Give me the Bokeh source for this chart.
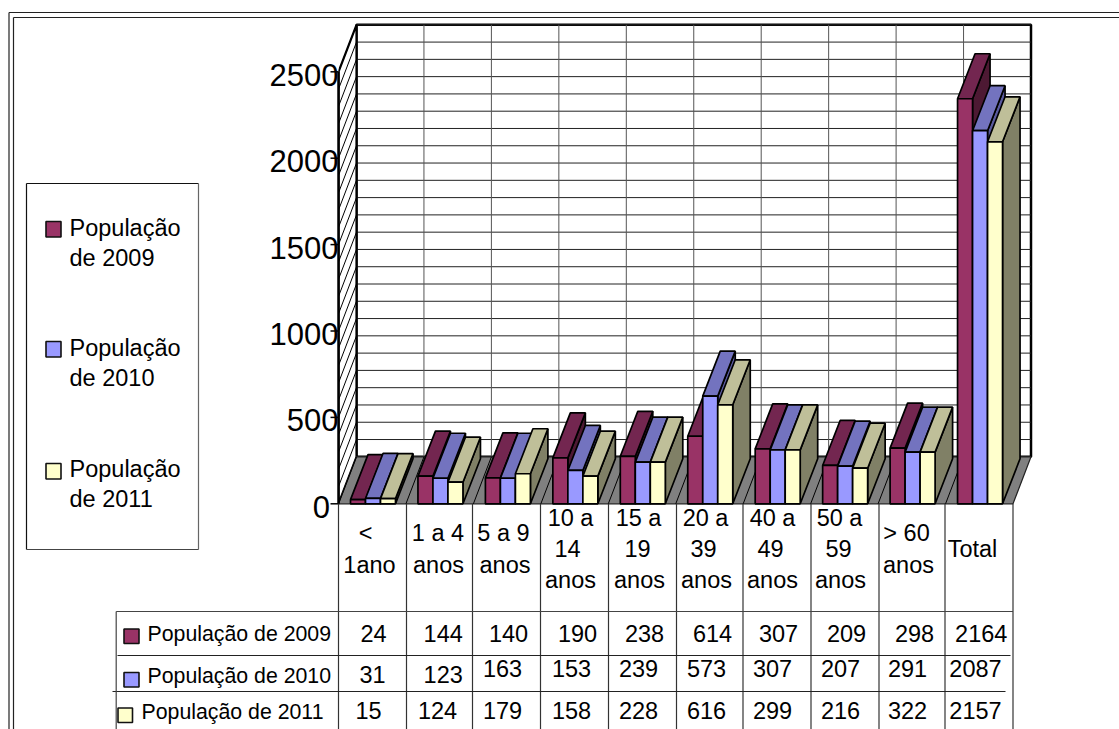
from bokeh.plotting import figure
from bokeh.models import Range1d, FixedTicker, LinearAxis
from bokeh.core.properties import value
from bokeh.embed import file_html
from bokeh.resources import INLINE

# ---------- data ----------
series_names = ["População de 2009", "População de 2010", "População de 2011"]
categories = ["<\n1ano", "1 a 4\nanos", "5 a 9\nanos", "10 a\n14\nanos", "15 a\n19\nanos",
              "20 a\n39\nanos", "40 a\n49\nanos", "50 a\n59\nanos", "> 60\nanos", "Total"]
# heights of the drawn bars
bars_2009 = [24, 160, 150, 266, 275, 391, 318, 222, 322, 2344]
bars_2010 = [31, 148, 148, 193, 241, 623, 312, 218, 299, 2159]
bars_2011 = [30, 125, 174, 160, 241, 573, 312, 206, 299, 2095]
# numbers printed in the data table
table_2009 = [24, 144, 140, 190, 238, 614, 307, 209, 298, 2164]
table_2010 = [31, 123, 163, 153, 239, 573, 307, 207, 291, 2087]
table_2011 = [15, 124, 179, 158, 228, 616, 299, 216, 322, 2157]
y_ticks = [0, 500, 1000, 1500, 2000, 2500]
grid_values = [v * 100 for v in range(1, 26)]

# ---------- styles / layout ----------
FRONT = ["#993366", "#9999ff", "#ffffcc"]
TOP = ["#732650", "#7373bf", "#bfbf99"]
SIDE = ["#4d1933", "#5a5a9e", "#808066"]
FONT = value("Liberation Sans")
PXX, PXY = 67.45, 0.1728
X = lambda px: (px - 338) / PXX
Y = lambda py: (503.3 - py) / PXY
DEPTH_X, DEPTH_Y = 18 / PXX, 47 / PXY
BAR_DX, BAR_DY = 17.5 / PXX, 45 / PXY
BAR_W = 15 / PXX
GROUP_OFF = 12 / PXX
N = len(categories)
LABEL_DROP = 3.5 / PXY  # tick labels sit slightly under their tick marks

p = figure(width=1119, height=729, output_backend="svg", toolbar_location=None,
           x_range=Range1d(X(338), X(1119)), y_range=Range1d(Y(729), Y(0)),
           x_axis_type=None, y_axis_type=None, min_border_left=338, min_border_right=0,
           min_border_top=0, min_border_bottom=0)
p.grid.visible = False
p.outline_line_color = None
p.background_fill_color = "white"
p.extra_y_ranges = {"labels": Range1d(Y(729) + LABEL_DROP, Y(0) + LABEL_DROP)}

ax = LinearAxis(y_range_name="labels")
ax.ticker = FixedTicker(ticks=y_ticks)
ax.minor_tick_line_color = None
ax.major_tick_line_color = None
ax.major_tick_in = 0
ax.major_tick_out = 0
ax.major_label_standoff = 0
ax.major_label_text_font = "Liberation Sans"
ax.major_label_text_font_size = "31px"
ax.major_label_text_color = "black"
ax.major_label_overrides = {0: "0\u00a0"}
ax.axis_line_color = None
p.add_layout(ax, "left")

# ---------- chart box ----------
p.patch([DEPTH_X, DEPTH_X + N, DEPTH_X + N, DEPTH_X],
        [DEPTH_Y, DEPTH_Y, 2500 + DEPTH_Y, 2500 + DEPTH_Y],
        fill_color="white", line_color="black", line_width=2.5)
p.segment([DEPTH_X] * len(grid_values), [v + DEPTH_Y for v in grid_values],
          [DEPTH_X + N] * len(grid_values), [v + DEPTH_Y for v in grid_values],
          line_color="#222222", line_width=1)
p.segment([DEPTH_X + i for i in range(1, N)], [DEPTH_Y] * (N - 1),
          [DEPTH_X + i for i in range(1, N)], [2500 + DEPTH_Y] * (N - 1),
          line_color="#555555", line_width=1)
# side wall with the grid lines running over it
p.patch([0, DEPTH_X, DEPTH_X, 0], [0, DEPTH_Y, 2500 + DEPTH_Y, 2500],
        fill_color="white", line_color="black", line_width=2.2)
p.segment([0] * len(grid_values), grid_values,
          [DEPTH_X] * len(grid_values), [v + DEPTH_Y for v in grid_values],
          line_color="black", line_width=1)
# floor
p.patch([0, N, N + DEPTH_X, DEPTH_X], [0, 0, DEPTH_Y, DEPTH_Y],
        fill_color="#808080", line_color="#222222", line_width=1.2)
p.segment(list(range(N)), [0] * N, [i + DEPTH_X for i in range(N)], [DEPTH_Y] * N,
          line_color="black", line_width=1)

# ---------- bars ----------
all_bars = [bars_2009, bars_2010, bars_2011]
for c in range(N):
    for s in range(3):
        v = all_bars[s][c]
        x0 = c + GROUP_OFF + s * BAR_W
        x1 = x0 + BAR_W
        faces = [
            ([x1, x1 + BAR_DX, x1 + BAR_DX, x1], [0, BAR_DY, v + BAR_DY, v], SIDE[s]),
            ([x0, x1, x1 + BAR_DX, x0 + BAR_DX], [v, v, v + BAR_DY, v + BAR_DY], TOP[s]),
            ([x0, x1, x1, x0], [0, 0, v, v], FRONT[s]),
        ]
        for xs, ys, col in faces:
            p.patch(xs, ys, fill_color=col, line_color="black", line_width=1.7)

# ---------- helpers for chrome ----------
def seg(x0, y0, x1, y1, color="black", w=1.0):
    p.segment([X(x0)], [Y(y0)], [X(x1)], [Y(y1)], line_color=color, line_width=w, level="overlay")

def txt(px, py, s, size=23.5, align="center"):
    p.text([X(px)], [Y(py - 0.36 * size)], text=[s], text_font=FONT, text_font_size=f"{size}px",
           text_align=align, text_baseline="alphabetic", text_color="black", level="overlay")

def swatch(x0, y0, x1, y1, col):
    p.quad(left=[X(x0)], right=[X(x1)], top=[Y(y0)], bottom=[Y(y1)], fill_color=col,
           line_color="#111111", line_width=1.6, level="overlay")

# y axis line and tick marks
p.segment([X(338)], [0], [X(338)], [2500], line_color="black", line_width=2.5, level="overlay")
p.segment([X(330)] * len(y_ticks), y_ticks, [X(338)] * len(y_ticks), y_ticks,
          line_color="black", line_width=1.5, level="overlay")

# outer frame
seg(8.5, 12, 1119, 12, "#222222", 1.2)
seg(13, 17, 1119, 17, "#222222", 1.2)
seg(8.5, 12, 8.5, 729, "#222222", 1.2)
seg(13, 17, 13, 729, "#222222", 1.2)

# legend box
seg(26, 183, 198, 183, "#111111", 1.2)
seg(26, 183, 26, 549, "#111111", 1.2)
seg(198, 183, 198, 549, "#666666", 1.2)
seg(26, 549, 198, 549, "#444444", 1.2)
legend_swatch_y = [221, 341, 463]
legend_base_y = [236, 356, 477]
for i, name in enumerate(series_names):
    first, second = name.split(" ", 1)
    swatch(45.5, legend_swatch_y[i], 60.5, legend_swatch_y[i] + 15.5, FRONT[i])
    txt(69, legend_base_y[i], first, 23.5, "left")
    txt(69, legend_base_y[i] + 30, second, 23.5, "left")

# data table grid
col_x = [338, 406, 472, 540, 608, 676, 742.5, 810.5, 878.5, 944.5, 1012.5]
for cx in col_x:
    seg(cx, 503.3, cx, 729, "#333333", 1.2)
seg(115.7, 611, 1012.5, 611, "#444444", 1.2)
seg(117, 655, 1010, 655, "#222222", 1.2)
seg(112, 691, 1005, 691, "#222222", 1.2)
seg(115.7, 611, 115.7, 729, "#444444", 1.2)

# category labels (one x centre per text line)
label_x = [[365, 369], [437.5, 438], [503, 504.5], [570, 567, 570], [638, 637, 639],
           [705, 703, 706], [772, 770, 772], [839, 838, 840], [906, 908], [972]]
label_base = {1: [556.7], 2: [541, 572.7], 3: [525.7, 556.7, 588]}
for c, lab in enumerate(categories):
    lines = lab.split("\n")
    for k, line in enumerate(lines):
        txt(label_x[c][k], label_base[len(lines)][k], line)

# table numbers
x_2009 = [373, 442.7, 508, 577, 644, 712, 778, 846, 914, 980.7]
x_2010 = [372, 442.7, 502, 571, 638, 706, 772, 840, 907, 975]
x_2011 = [368, 437, 502, 571, 638, 706, 772, 840, 907, 975]
base_2010 = [682.7, 682.7] + [676.7] * 8
for c in range(N):
    txt(x_2009[c], 641.7, str(table_2009[c]))
    txt(x_2010[c], base_2010[c], str(table_2010[c]))
    txt(x_2011[c], 718.3, str(table_2011[c]))

# table row headers
swatch(123.5, 628.5, 138.5, 643, FRONT[0])
txt(147, 640.7, series_names[0], 21.3, "left")
swatch(123.5, 672, 138.5, 686.5, FRONT[1])
txt(147, 682.7, series_names[1], 21.3, "left")
swatch(117.5, 707.5, 132, 722, FRONT[2])
txt(141, 719, series_names[2], 21.3, "left")

open("out.html", "w").write(file_html(p, INLINE))
